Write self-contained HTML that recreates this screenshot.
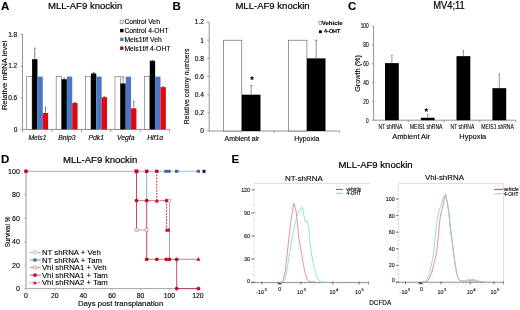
<!DOCTYPE html>
<html><head><meta charset="utf-8"><style>
html,body{margin:0;padding:0;background:#fff;width:520px;height:310px;overflow:hidden}
svg{display:block;font-family:"Liberation Sans", sans-serif;filter:blur(0.3px)}
text{stroke:#000;stroke-width:0.12px}
.h{stroke-width:0.2px}
</style></head><body>
<svg width="520" height="310" viewBox="0 0 520 310">
<rect width="520" height="310" fill="#fff"/>
<text x="1.0" y="9.5" font-size="11.5" text-anchor="start" font-weight="bold" fill="#000">A</text>
<text x="48.0" y="9.0" font-size="9.55" text-anchor="start" fill="#000" class="h">MLL-AF9 knockin</text>
<rect x="120.10" y="20.10" width="3.40" height="3.40" fill="#fff" stroke="#555" stroke-width="0.5"/>
<text x="124.4" y="24.2" font-size="6.8" text-anchor="start" fill="#000">Control Veh</text>
<rect x="120.10" y="28.90" width="3.40" height="3.40" fill="#000"/>
<text x="124.4" y="33.0" font-size="6.8" text-anchor="start" fill="#000">Control 4-OHT</text>
<rect x="120.10" y="37.70" width="3.40" height="3.40" fill="#4a78c6"/>
<text x="124.4" y="41.800000000000004" font-size="6.8" text-anchor="start" fill="#000">Meis1f/f Veh</text>
<rect x="120.10" y="46.50" width="3.40" height="3.40" fill="#a01820"/>
<text x="124.4" y="50.6" font-size="6.8" text-anchor="start" fill="#000">Meis1f/f 4-OHT</text>
<line x1="22.50" y1="34.00" x2="22.50" y2="129.40" stroke="#7a7a7a" stroke-width="0.8"/>
<line x1="22.50" y1="129.40" x2="169.60" y2="129.40" stroke="#7a7a7a" stroke-width="0.8"/>
<line x1="20.50" y1="34.36" x2="22.50" y2="34.36" stroke="#7a7a7a" stroke-width="0.7"/>
<text x="17.3" y="36.76000000000001" font-size="6.6" text-anchor="end" fill="#000">1.8</text>
<line x1="20.50" y1="66.04" x2="22.50" y2="66.04" stroke="#7a7a7a" stroke-width="0.7"/>
<text x="17.3" y="68.44000000000003" font-size="6.6" text-anchor="end" fill="#000">1.2</text>
<line x1="20.50" y1="97.72" x2="22.50" y2="97.72" stroke="#7a7a7a" stroke-width="0.7"/>
<text x="17.3" y="100.12000000000002" font-size="6.6" text-anchor="end" fill="#000">0.6</text>
<line x1="20.50" y1="129.40" x2="22.50" y2="129.40" stroke="#7a7a7a" stroke-width="0.7"/>
<text x="17.3" y="131.8" font-size="6.6" text-anchor="end" fill="#000">0</text>
<line x1="22.50" y1="129.40" x2="22.50" y2="132.20" stroke="#7a7a7a" stroke-width="0.7"/>
<line x1="52.00" y1="129.40" x2="52.00" y2="132.20" stroke="#7a7a7a" stroke-width="0.7"/>
<line x1="81.40" y1="129.40" x2="81.40" y2="132.20" stroke="#7a7a7a" stroke-width="0.7"/>
<line x1="110.80" y1="129.40" x2="110.80" y2="132.20" stroke="#7a7a7a" stroke-width="0.7"/>
<line x1="140.20" y1="129.40" x2="140.20" y2="132.20" stroke="#7a7a7a" stroke-width="0.7"/>
<line x1="169.60" y1="129.40" x2="169.60" y2="132.20" stroke="#7a7a7a" stroke-width="0.7"/>
<rect x="26.75" y="76.60" width="5.35" height="52.80" fill="#fff" stroke="#666" stroke-width="0.6"/>
<rect x="32.10" y="59.18" width="5.35" height="70.22" fill="#000"/>
<line x1="34.77" y1="48.09" x2="34.77" y2="59.18" stroke="#333" stroke-width="0.6"/>
<line x1="33.98" y1="48.09" x2="35.57" y2="48.09" stroke="#333" stroke-width="0.6"/>
<rect x="37.45" y="76.60" width="5.35" height="52.80" fill="#4a78c6"/>
<rect x="42.80" y="113.03" width="5.35" height="16.37" fill="#e0070f"/>
<line x1="45.47" y1="107.22" x2="45.47" y2="113.03" stroke="#333" stroke-width="0.6"/>
<line x1="44.67" y1="107.22" x2="46.27" y2="107.22" stroke="#333" stroke-width="0.6"/>
<text x="37.45" y="139.6" font-size="6.8" text-anchor="middle" font-style="italic" fill="#000">Meis1</text>
<rect x="56.17" y="76.60" width="5.35" height="52.80" fill="#fff" stroke="#666" stroke-width="0.6"/>
<rect x="61.52" y="79.24" width="5.35" height="50.16" fill="#000"/>
<line x1="64.20" y1="78.18" x2="64.20" y2="79.24" stroke="#333" stroke-width="0.6"/>
<line x1="63.40" y1="78.18" x2="65.00" y2="78.18" stroke="#333" stroke-width="0.6"/>
<rect x="66.87" y="76.60" width="5.35" height="52.80" fill="#4a78c6"/>
<rect x="72.22" y="103.00" width="5.35" height="26.40" fill="#e0070f"/>
<line x1="74.89" y1="102.47" x2="74.89" y2="103.00" stroke="#333" stroke-width="0.6"/>
<line x1="74.09" y1="102.47" x2="75.69" y2="102.47" stroke="#333" stroke-width="0.6"/>
<text x="66.87" y="139.6" font-size="6.8" text-anchor="middle" font-style="italic" fill="#000">Bnip3</text>
<rect x="85.59" y="76.60" width="5.35" height="52.80" fill="#fff" stroke="#666" stroke-width="0.6"/>
<rect x="90.94" y="73.43" width="5.35" height="55.97" fill="#000"/>
<line x1="93.61" y1="72.38" x2="93.61" y2="73.43" stroke="#333" stroke-width="0.6"/>
<line x1="92.81" y1="72.38" x2="94.41" y2="72.38" stroke="#333" stroke-width="0.6"/>
<rect x="96.29" y="76.60" width="5.35" height="52.80" fill="#4a78c6"/>
<rect x="101.64" y="97.19" width="5.35" height="32.21" fill="#e0070f"/>
<line x1="104.31" y1="96.66" x2="104.31" y2="97.19" stroke="#333" stroke-width="0.6"/>
<line x1="103.52" y1="96.66" x2="105.11" y2="96.66" stroke="#333" stroke-width="0.6"/>
<text x="96.29" y="139.6" font-size="6.8" text-anchor="middle" font-style="italic" fill="#000">Pdk1</text>
<rect x="115.01" y="76.60" width="5.35" height="52.80" fill="#fff" stroke="#666" stroke-width="0.6"/>
<rect x="120.36" y="83.46" width="5.35" height="45.94" fill="#000"/>
<line x1="123.03" y1="76.60" x2="123.03" y2="83.46" stroke="#333" stroke-width="0.6"/>
<line x1="122.23" y1="76.60" x2="123.83" y2="76.60" stroke="#333" stroke-width="0.6"/>
<rect x="125.71" y="76.60" width="5.35" height="52.80" fill="#4a78c6"/>
<rect x="131.06" y="108.28" width="5.35" height="21.12" fill="#e0070f"/>
<line x1="133.74" y1="101.42" x2="133.74" y2="108.28" stroke="#333" stroke-width="0.6"/>
<line x1="132.94" y1="101.42" x2="134.54" y2="101.42" stroke="#333" stroke-width="0.6"/>
<text x="125.71000000000001" y="139.6" font-size="6.8" text-anchor="middle" font-style="italic" fill="#000">Vegfa</text>
<rect x="144.43" y="76.60" width="5.35" height="52.80" fill="#fff" stroke="#666" stroke-width="0.6"/>
<rect x="149.78" y="60.76" width="5.35" height="68.64" fill="#000"/>
<line x1="152.46" y1="60.23" x2="152.46" y2="60.76" stroke="#333" stroke-width="0.6"/>
<line x1="151.66" y1="60.23" x2="153.26" y2="60.23" stroke="#333" stroke-width="0.6"/>
<rect x="155.13" y="76.60" width="5.35" height="52.80" fill="#4a78c6"/>
<rect x="160.48" y="87.16" width="5.35" height="42.24" fill="#e0070f"/>
<line x1="163.16" y1="86.63" x2="163.16" y2="87.16" stroke="#333" stroke-width="0.6"/>
<line x1="162.36" y1="86.63" x2="163.96" y2="86.63" stroke="#333" stroke-width="0.6"/>
<text x="155.13" y="139.6" font-size="6.8" text-anchor="middle" font-style="italic" fill="#000">Hif1α</text>
<text x="6.5" y="75.5" font-size="7.6" text-anchor="middle" fill="#000" transform="rotate(-90 6.5 75.5)">Relative mRNA level</text>
<text x="172.6" y="9.5" font-size="11.5" text-anchor="start" font-weight="bold" fill="#000">B</text>
<text x="235.4" y="9.0" font-size="9.55" text-anchor="start" fill="#000" class="h">MLL-AF9 knockin</text>
<line x1="209.20" y1="22.00" x2="209.20" y2="131.00" stroke="#7a7a7a" stroke-width="0.8"/>
<line x1="209.20" y1="131.00" x2="339.60" y2="131.00" stroke="#7a7a7a" stroke-width="0.8"/>
<line x1="207.20" y1="22.04" x2="209.20" y2="22.04" stroke="#7a7a7a" stroke-width="0.7"/>
<text x="204.0" y="24.340000000000007" font-size="6.6" text-anchor="end" fill="#000">1.2</text>
<line x1="207.20" y1="40.20" x2="209.20" y2="40.20" stroke="#7a7a7a" stroke-width="0.7"/>
<text x="204.0" y="42.5" font-size="6.6" text-anchor="end" fill="#000">1</text>
<line x1="207.20" y1="58.36" x2="209.20" y2="58.36" stroke="#7a7a7a" stroke-width="0.7"/>
<text x="204.0" y="60.66" font-size="6.6" text-anchor="end" fill="#000">0.8</text>
<line x1="207.20" y1="76.52" x2="209.20" y2="76.52" stroke="#7a7a7a" stroke-width="0.7"/>
<text x="204.0" y="78.82000000000001" font-size="6.6" text-anchor="end" fill="#000">0.6</text>
<line x1="207.20" y1="94.68" x2="209.20" y2="94.68" stroke="#7a7a7a" stroke-width="0.7"/>
<text x="204.0" y="96.98" font-size="6.6" text-anchor="end" fill="#000">0.4</text>
<line x1="207.20" y1="112.84" x2="209.20" y2="112.84" stroke="#7a7a7a" stroke-width="0.7"/>
<text x="204.0" y="115.14" font-size="6.6" text-anchor="end" fill="#000">0.2</text>
<line x1="207.20" y1="131.00" x2="209.20" y2="131.00" stroke="#7a7a7a" stroke-width="0.7"/>
<text x="204.0" y="133.3" font-size="6.6" text-anchor="end" fill="#000">0</text>
<line x1="274.00" y1="131.00" x2="274.00" y2="133.20" stroke="#7a7a7a" stroke-width="0.7"/>
<line x1="339.60" y1="131.00" x2="339.60" y2="133.20" stroke="#7a7a7a" stroke-width="0.7"/>
<rect x="223.40" y="40.20" width="18.40" height="90.80" fill="#fff" stroke="#555" stroke-width="0.6"/>
<rect x="241.80" y="94.68" width="18.70" height="36.32" fill="#000"/>
<line x1="251.15" y1="85.60" x2="251.15" y2="94.68" stroke="#444" stroke-width="0.6"/>
<line x1="249.95" y1="85.60" x2="252.35" y2="85.60" stroke="#444" stroke-width="0.6"/>
<rect x="288.30" y="40.20" width="18.60" height="90.80" fill="#fff" stroke="#555" stroke-width="0.6"/>
<rect x="306.90" y="58.36" width="18.60" height="72.64" fill="#000"/>
<line x1="316.20" y1="40.20" x2="316.20" y2="58.36" stroke="#444" stroke-width="0.6"/>
<line x1="315.00" y1="40.20" x2="317.40" y2="40.20" stroke="#444" stroke-width="0.6"/>
<polygon points="252.00,75.80 252.63,77.33 254.28,77.46 253.03,78.53 253.41,80.14 252.00,79.28 250.59,80.14 250.97,78.53 249.72,77.46 251.37,77.33" fill="#000"/>
<text x="242.0" y="141.2" font-size="6.9" text-anchor="middle" fill="#000">Ambient air</text>
<text x="306.8" y="141.2" font-size="6.9" text-anchor="middle" fill="#000">Hypoxia</text>
<text x="189.4" y="86.4" font-size="6.9" text-anchor="middle" fill="#000" transform="rotate(-90 189.4 86.4)">Relative colony numbers</text>
<rect x="319.00" y="21.50" width="2.80" height="2.90" fill="#fff" stroke="#555" stroke-width="0.5"/>
<text x="321.8" y="24.8" font-size="6.0" text-anchor="start" font-weight="bold" fill="#000">Vehicle</text>
<rect x="319.00" y="30.30" width="2.80" height="2.80" fill="#000"/>
<text x="324.1" y="33.2" font-size="5.4" text-anchor="start" font-weight="bold" fill="#000">4-OHT</text>
<text x="347.9" y="9.6" font-size="11.5" text-anchor="start" font-weight="bold" fill="#000">C</text>
<text x="433.2" y="8.5" font-size="10.0" text-anchor="start" fill="#000" class="h" textLength="31.6" lengthAdjust="spacingAndGlyphs">MV4;11</text>
<line x1="373.60" y1="26.00" x2="373.60" y2="120.20" stroke="#7a7a7a" stroke-width="0.8"/>
<line x1="373.60" y1="120.20" x2="515.50" y2="120.20" stroke="#7a7a7a" stroke-width="0.8"/>
<line x1="371.80" y1="26.00" x2="373.60" y2="26.00" stroke="#7a7a7a" stroke-width="0.7"/>
<text x="368.7" y="28.400000000000013" font-size="6.6" text-anchor="end" fill="#000" textLength="8.0" lengthAdjust="spacingAndGlyphs">100</text>
<line x1="371.80" y1="44.84" x2="373.60" y2="44.84" stroke="#7a7a7a" stroke-width="0.7"/>
<text x="368.7" y="47.24" font-size="6.6" text-anchor="end" fill="#000" textLength="5.4" lengthAdjust="spacingAndGlyphs">80</text>
<line x1="371.80" y1="63.68" x2="373.60" y2="63.68" stroke="#7a7a7a" stroke-width="0.7"/>
<text x="368.7" y="66.08000000000001" font-size="6.6" text-anchor="end" fill="#000" textLength="5.4" lengthAdjust="spacingAndGlyphs">60</text>
<line x1="371.80" y1="82.52" x2="373.60" y2="82.52" stroke="#7a7a7a" stroke-width="0.7"/>
<text x="368.7" y="84.92000000000002" font-size="6.6" text-anchor="end" fill="#000" textLength="5.4" lengthAdjust="spacingAndGlyphs">40</text>
<line x1="371.80" y1="101.36" x2="373.60" y2="101.36" stroke="#7a7a7a" stroke-width="0.7"/>
<text x="368.7" y="103.76" font-size="6.6" text-anchor="end" fill="#000" textLength="5.4" lengthAdjust="spacingAndGlyphs">20</text>
<line x1="371.80" y1="120.20" x2="373.60" y2="120.20" stroke="#7a7a7a" stroke-width="0.7"/>
<text x="368.7" y="122.60000000000001" font-size="6.6" text-anchor="end" fill="#000" textLength="2.6" lengthAdjust="spacingAndGlyphs">0</text>
<line x1="408.20" y1="120.20" x2="408.20" y2="122.20" stroke="#7a7a7a" stroke-width="0.7"/>
<line x1="444.00" y1="120.20" x2="444.00" y2="122.20" stroke="#7a7a7a" stroke-width="0.7"/>
<line x1="479.80" y1="120.20" x2="479.80" y2="122.20" stroke="#7a7a7a" stroke-width="0.7"/>
<line x1="515.50" y1="120.20" x2="515.50" y2="122.20" stroke="#7a7a7a" stroke-width="0.7"/>
<rect x="385.00" y="63.11" width="13.80" height="57.09" fill="#000"/>
<line x1="391.90" y1="55.20" x2="391.90" y2="63.11" stroke="#444" stroke-width="0.55"/>
<line x1="391.10" y1="55.20" x2="392.70" y2="55.20" stroke="#444" stroke-width="0.55"/>
<rect x="420.80" y="117.75" width="13.80" height="2.45" fill="#000"/>
<line x1="427.70" y1="114.36" x2="427.70" y2="117.75" stroke="#444" stroke-width="0.55"/>
<line x1="426.90" y1="114.36" x2="428.50" y2="114.36" stroke="#444" stroke-width="0.55"/>
<rect x="456.50" y="56.14" width="13.80" height="64.06" fill="#000"/>
<line x1="463.40" y1="50.49" x2="463.40" y2="56.14" stroke="#444" stroke-width="0.55"/>
<line x1="462.60" y1="50.49" x2="464.20" y2="50.49" stroke="#444" stroke-width="0.55"/>
<rect x="492.40" y="88.17" width="13.80" height="32.03" fill="#000"/>
<line x1="499.30" y1="73.76" x2="499.30" y2="88.17" stroke="#444" stroke-width="0.55"/>
<line x1="498.50" y1="73.76" x2="500.10" y2="73.76" stroke="#444" stroke-width="0.55"/>
<polygon points="426.30,107.60 426.93,109.13 428.58,109.26 427.33,110.33 427.71,111.94 426.30,111.08 424.89,111.94 425.27,110.33 424.02,109.26 425.67,109.13" fill="#000"/>
<text x="390.4" y="129.2" font-size="6.4" text-anchor="middle" fill="#000" textLength="23.6" lengthAdjust="spacingAndGlyphs" style="stroke-width:0.1px">NT shRNA</text>
<text x="426.2" y="129.2" font-size="6.4" text-anchor="middle" fill="#000" textLength="32.6" lengthAdjust="spacingAndGlyphs" style="stroke-width:0.1px">MEIS1 shRNA</text>
<text x="462.4" y="129.2" font-size="6.4" text-anchor="middle" fill="#000" textLength="23.6" lengthAdjust="spacingAndGlyphs" style="stroke-width:0.1px">NT shRNA</text>
<text x="497.6" y="129.2" font-size="6.4" text-anchor="middle" fill="#000" textLength="32.6" lengthAdjust="spacingAndGlyphs" style="stroke-width:0.1px">MEIS1 shRNA</text>
<text x="411.2" y="138.7" font-size="7.45" text-anchor="middle" fill="#000">Ambient Air</text>
<text x="472.8" y="138.7" font-size="7.45" text-anchor="middle" fill="#000">Hypoxia</text>
<text x="359.7" y="73.4" font-size="7.3" text-anchor="middle" fill="#000" transform="rotate(-90 359.7 73.4)">Growth (%)</text>
<text x="1.0" y="163.4" font-size="11.5" text-anchor="start" font-weight="bold" fill="#000">D</text>
<text x="63.0" y="162.9" font-size="9.55" text-anchor="start" fill="#000" class="h">MLL-AF9 knockin</text>
<line x1="26.00" y1="171.20" x2="26.00" y2="288.60" stroke="#a8a8a8" stroke-width="1.2"/>
<line x1="26.00" y1="288.60" x2="198.60" y2="288.60" stroke="#a8a8a8" stroke-width="1.0"/>
<line x1="24.20" y1="171.30" x2="26.00" y2="171.30" stroke="#999" stroke-width="0.7"/>
<text x="19.8" y="173.70000000000002" font-size="7.0" text-anchor="end" fill="#000">100</text>
<line x1="24.20" y1="194.76" x2="26.00" y2="194.76" stroke="#999" stroke-width="0.7"/>
<text x="19.8" y="197.16000000000003" font-size="7.0" text-anchor="end" fill="#000">80</text>
<line x1="24.20" y1="218.22" x2="26.00" y2="218.22" stroke="#999" stroke-width="0.7"/>
<text x="19.8" y="220.62000000000003" font-size="7.0" text-anchor="end" fill="#000">60</text>
<line x1="24.20" y1="241.68" x2="26.00" y2="241.68" stroke="#999" stroke-width="0.7"/>
<text x="19.8" y="244.08" font-size="7.0" text-anchor="end" fill="#000">40</text>
<line x1="24.20" y1="265.14" x2="26.00" y2="265.14" stroke="#999" stroke-width="0.7"/>
<text x="19.8" y="267.54" font-size="7.0" text-anchor="end" fill="#000">20</text>
<line x1="24.20" y1="288.60" x2="26.00" y2="288.60" stroke="#999" stroke-width="0.7"/>
<text x="19.8" y="291.0" font-size="7.0" text-anchor="end" fill="#000">0</text>
<line x1="26.00" y1="288.60" x2="26.00" y2="290.40" stroke="#999" stroke-width="0.7"/>
<text x="26.0" y="297.6" font-size="6.8" text-anchor="middle" fill="#000">0</text>
<line x1="54.66" y1="288.60" x2="54.66" y2="290.40" stroke="#999" stroke-width="0.7"/>
<text x="54.66" y="297.6" font-size="6.8" text-anchor="middle" fill="#000">20</text>
<line x1="83.32" y1="288.60" x2="83.32" y2="290.40" stroke="#999" stroke-width="0.7"/>
<text x="83.32" y="297.6" font-size="6.8" text-anchor="middle" fill="#000">40</text>
<line x1="111.98" y1="288.60" x2="111.98" y2="290.40" stroke="#999" stroke-width="0.7"/>
<text x="111.98" y="297.6" font-size="6.8" text-anchor="middle" fill="#000">60</text>
<line x1="140.64" y1="288.60" x2="140.64" y2="290.40" stroke="#999" stroke-width="0.7"/>
<text x="140.64" y="297.6" font-size="6.8" text-anchor="middle" fill="#000">80</text>
<line x1="169.30" y1="288.60" x2="169.30" y2="290.40" stroke="#999" stroke-width="0.7"/>
<text x="169.3" y="297.6" font-size="6.8" text-anchor="middle" fill="#000">100</text>
<line x1="197.96" y1="288.60" x2="197.96" y2="290.40" stroke="#999" stroke-width="0.7"/>
<text x="197.96" y="297.6" font-size="6.8" text-anchor="middle" fill="#000">120</text>
<text x="120.6" y="306.0" font-size="7.75" text-anchor="middle" fill="#000">Days post transplanation</text>
<text x="10.3" y="231.9" font-size="7.2" text-anchor="middle" fill="#000" transform="rotate(-90 10.3 231.9)" textLength="30.6" lengthAdjust="spacingAndGlyphs">Survival %</text>
<line x1="26.00" y1="171.30" x2="136.50" y2="171.30" stroke="#cc4858" stroke-width="0.6"/>
<line x1="136.50" y1="171.30" x2="156.80" y2="171.30" stroke="#cf4a5a" stroke-width="0.6"/>
<line x1="156.80" y1="171.30" x2="198.40" y2="171.30" stroke="#7d9ccc" stroke-width="0.7"/>
<line x1="136.50" y1="171.30" x2="136.50" y2="229.95" stroke="#b8102c" stroke-width="0.75"/>
<line x1="146.70" y1="171.30" x2="146.70" y2="200.62" stroke="#6a8cc4" stroke-width="0.75"/>
<line x1="146.70" y1="200.62" x2="146.70" y2="259.28" stroke="#b8102c" stroke-width="0.75"/>
<line x1="156.80" y1="171.30" x2="156.80" y2="200.62" stroke="#b8102c" stroke-width="0.9" stroke-dasharray="1.8 1.3"/>
<line x1="166.60" y1="200.62" x2="166.60" y2="229.95" stroke="#b8102c" stroke-width="0.9" stroke-dasharray="1.8 1.3"/>
<line x1="169.50" y1="200.62" x2="169.50" y2="259.28" stroke="#7f8fb0" stroke-width="0.75"/>
<line x1="176.70" y1="259.28" x2="176.70" y2="288.60" stroke="#b8102c" stroke-width="0.75"/>
<line x1="136.50" y1="200.62" x2="169.50" y2="200.62" stroke="#cf3a4a" stroke-width="0.7"/>
<line x1="136.50" y1="229.95" x2="146.70" y2="229.95" stroke="#e09aa4" stroke-width="1.0"/>
<line x1="146.70" y1="259.28" x2="198.40" y2="259.28" stroke="#cf3a4a" stroke-width="0.7"/>
<line x1="176.70" y1="288.60" x2="198.40" y2="288.60" stroke="#b8102c" stroke-width="0.7"/>
<circle cx="26.00" cy="171.30" r="2.0" fill="#b8102c"/>
<rect x="134.55" y="169.35" width="3.90" height="3.90" fill="#b8102c"/>
<rect x="145.00" y="169.60" width="3.40" height="3.40" fill="#b8102c"/>
<rect x="155.10" y="169.60" width="3.40" height="3.40" fill="#b8102c"/>
<rect x="164.25" y="169.80" width="6.40" height="3.00" fill="#45669e"/>
<rect x="175.00" y="169.80" width="3.40" height="3.00" fill="#45669e"/>
<rect x="196.70" y="169.80" width="3.40" height="3.00" fill="#45669e"/>
<polygon points="204.00,168.80 204.69,170.45 206.47,170.60 205.11,171.76 205.53,173.50 204.00,172.57 202.47,173.50 202.89,171.76 201.53,170.60 203.31,170.45" fill="#000"/>
<circle cx="136.50" cy="200.62" r="1.9" fill="#b8102c"/>
<circle cx="146.70" cy="200.62" r="1.9" fill="#b8102c"/>
<path d="M154.70 202.39L156.80 198.53L158.90 202.39Z" fill="#b8102c"/>
<circle cx="166.60" cy="200.62" r="1.9" fill="#b8102c"/>
<rect x="168.10" y="199.22" width="2.80" height="2.80" fill="#fff" stroke="#8aa0c8" stroke-width="0.6"/>
<circle cx="136.50" cy="229.95" r="1.7" fill="#fff" stroke="#c85060" stroke-width="0.6"/>
<circle cx="146.70" cy="229.95" r="1.7" fill="#fff" stroke="#c85060" stroke-width="0.6"/>
<path d="M164.70 231.51L166.80 227.65L168.90 231.51Z" fill="#b8102c"/>
<path d="M166.40 231.51L168.50 227.65L170.60 231.51Z" fill="#b8102c"/>
<circle cx="146.70" cy="259.28" r="1.9" fill="#b8102c"/>
<circle cx="156.80" cy="259.28" r="1.9" fill="#b8102c"/>
<circle cx="166.30" cy="259.28" r="1.9" fill="#b8102c"/>
<circle cx="169.50" cy="259.28" r="1.9" fill="#b8102c"/>
<circle cx="176.70" cy="259.28" r="1.9" fill="#b8102c"/>
<path d="M196.40 260.76L198.40 257.08L200.40 260.76Z" fill="#b8102c"/>
<circle cx="176.70" cy="288.60" r="1.9" fill="#b8102c"/>
<circle cx="198.40" cy="288.60" r="1.9" fill="#b8102c"/>
<line x1="29.80" y1="252.40" x2="40.90" y2="252.40" stroke="#7d9ccc" stroke-width="0.7"/>
<circle cx="35.00" cy="252.40" r="1.7" fill="#fff" stroke="#7d9ccc" stroke-width="0.6"/>
<text x="41.9" y="255.1" font-size="7.8" text-anchor="start" fill="#000">NT shRNA + Veh</text>
<line x1="29.80" y1="259.97" x2="40.90" y2="259.97" stroke="#45669e" stroke-width="0.7"/>
<rect x="33.45" y="258.42" width="3.10" height="3.10" fill="#45669e"/>
<text x="41.9" y="262.67" font-size="7.8" text-anchor="start" fill="#000">NT shRNA + Tam</text>
<line x1="29.80" y1="267.54" x2="40.90" y2="267.54" stroke="#d06070" stroke-width="0.7"/>
<circle cx="35.00" cy="267.54" r="1.7" fill="#fff" stroke="#d06070" stroke-width="0.6"/>
<text x="41.9" y="270.24" font-size="7.8" text-anchor="start" fill="#000">Vhl shRNA1 + Veh</text>
<line x1="29.80" y1="275.11" x2="40.90" y2="275.11" stroke="#b8102c" stroke-width="0.7"/>
<circle cx="35.00" cy="275.11" r="1.9" fill="#b8102c"/>
<text x="41.9" y="277.81" font-size="7.8" text-anchor="start" fill="#000">Vhl shRNA1 + Tam</text>
<line x1="29.80" y1="282.68" x2="40.90" y2="282.68" stroke="#b8102c" stroke-width="0.7" stroke-dasharray="1.3 0.9"/>
<path d="M33.20 284.19L35.00 280.88L36.80 284.19Z" fill="#b8102c"/>
<text x="41.9" y="285.38" font-size="7.8" text-anchor="start" fill="#000">Vhl shRNA2 + Tam</text>
<text x="231.4" y="163.4" font-size="11.5" text-anchor="start" font-weight="bold" fill="#000">E</text>
<text x="338.4" y="168.4" font-size="9.55" text-anchor="start" fill="#000" class="h">MLL-AF9 knockin</text>
<text x="303.8" y="180.8" font-size="7.9" text-anchor="middle" fill="#000">NT-shRNA</text>
<text x="444.4" y="180.4" font-size="7.9" text-anchor="middle" fill="#000">Vhl-shRNA</text>
<text x="380.2" y="304.9" font-size="6.4" text-anchor="middle" fill="#000">DCFDA</text>
<line x1="254.40" y1="183.40" x2="369.80" y2="183.40" stroke="#c4c4c4" stroke-width="0.6"/>
<line x1="254.40" y1="183.40" x2="254.40" y2="282.40" stroke="#dcdcdc" stroke-width="0.5"/>
<line x1="251.00" y1="282.40" x2="368.50" y2="282.40" stroke="#555" stroke-width="0.6"/>
<line x1="251.40" y1="189.80" x2="254.40" y2="189.80" stroke="#333" stroke-width="0.7"/>
<text x="250.0" y="191.7" font-size="5.3" text-anchor="end" fill="#222">120</text>
<line x1="251.40" y1="212.90" x2="254.40" y2="212.90" stroke="#333" stroke-width="0.7"/>
<text x="250.0" y="214.79999999999998" font-size="5.3" text-anchor="end" fill="#222">90</text>
<line x1="251.40" y1="236.00" x2="254.40" y2="236.00" stroke="#333" stroke-width="0.7"/>
<text x="250.0" y="237.9" font-size="5.3" text-anchor="end" fill="#222">60</text>
<line x1="251.40" y1="259.10" x2="254.40" y2="259.10" stroke="#333" stroke-width="0.7"/>
<text x="250.0" y="260.99999999999994" font-size="5.3" text-anchor="end" fill="#222">30</text>
<line x1="251.40" y1="282.20" x2="254.40" y2="282.20" stroke="#333" stroke-width="0.7"/>
<text x="250.0" y="282.79999999999995" font-size="5.3" text-anchor="end" fill="#222">0</text>
<line x1="253.20" y1="282.20" x2="254.40" y2="282.20" stroke="#888" stroke-width="0.5"/>
<line x1="253.20" y1="274.50" x2="254.40" y2="274.50" stroke="#888" stroke-width="0.5"/>
<line x1="253.20" y1="266.80" x2="254.40" y2="266.80" stroke="#888" stroke-width="0.5"/>
<line x1="253.20" y1="259.10" x2="254.40" y2="259.10" stroke="#888" stroke-width="0.5"/>
<line x1="253.20" y1="251.40" x2="254.40" y2="251.40" stroke="#888" stroke-width="0.5"/>
<line x1="253.20" y1="243.70" x2="254.40" y2="243.70" stroke="#888" stroke-width="0.5"/>
<line x1="253.20" y1="236.00" x2="254.40" y2="236.00" stroke="#888" stroke-width="0.5"/>
<line x1="253.20" y1="228.30" x2="254.40" y2="228.30" stroke="#888" stroke-width="0.5"/>
<line x1="253.20" y1="220.60" x2="254.40" y2="220.60" stroke="#888" stroke-width="0.5"/>
<line x1="253.20" y1="212.90" x2="254.40" y2="212.90" stroke="#888" stroke-width="0.5"/>
<line x1="253.20" y1="205.20" x2="254.40" y2="205.20" stroke="#888" stroke-width="0.5"/>
<line x1="253.20" y1="197.50" x2="254.40" y2="197.50" stroke="#888" stroke-width="0.5"/>
<line x1="253.20" y1="189.80" x2="254.40" y2="189.80" stroke="#888" stroke-width="0.5"/>
<line x1="398.60" y1="183.40" x2="503.60" y2="183.40" stroke="#c4c4c4" stroke-width="0.6"/>
<line x1="398.60" y1="183.40" x2="398.60" y2="282.20" stroke="#dcdcdc" stroke-width="0.5"/>
<line x1="503.60" y1="183.40" x2="503.60" y2="282.20" stroke="#c4c4c4" stroke-width="0.6"/>
<line x1="395.50" y1="282.20" x2="503.60" y2="282.20" stroke="#555" stroke-width="0.6"/>
<line x1="396.20" y1="199.00" x2="398.60" y2="199.00" stroke="#333" stroke-width="0.7"/>
<text x="394.6" y="200.9" font-size="5.3" text-anchor="end" fill="#222">100</text>
<line x1="396.20" y1="215.60" x2="398.60" y2="215.60" stroke="#333" stroke-width="0.7"/>
<text x="394.6" y="217.50000000000003" font-size="5.3" text-anchor="end" fill="#222">80</text>
<line x1="396.20" y1="232.20" x2="398.60" y2="232.20" stroke="#333" stroke-width="0.7"/>
<text x="394.6" y="234.1" font-size="5.3" text-anchor="end" fill="#222">60</text>
<line x1="396.20" y1="248.80" x2="398.60" y2="248.80" stroke="#333" stroke-width="0.7"/>
<text x="394.6" y="250.70000000000002" font-size="5.3" text-anchor="end" fill="#222">40</text>
<line x1="396.20" y1="265.40" x2="398.60" y2="265.40" stroke="#333" stroke-width="0.7"/>
<text x="394.6" y="267.29999999999995" font-size="5.3" text-anchor="end" fill="#222">20</text>
<line x1="396.20" y1="282.00" x2="398.60" y2="282.00" stroke="#333" stroke-width="0.7"/>
<text x="394.6" y="281.7" font-size="5.3" text-anchor="end" fill="#222">0</text>
<line x1="397.40" y1="282.00" x2="398.60" y2="282.00" stroke="#888" stroke-width="0.5"/>
<line x1="397.40" y1="277.85" x2="398.60" y2="277.85" stroke="#888" stroke-width="0.5"/>
<line x1="397.40" y1="273.70" x2="398.60" y2="273.70" stroke="#888" stroke-width="0.5"/>
<line x1="397.40" y1="269.55" x2="398.60" y2="269.55" stroke="#888" stroke-width="0.5"/>
<line x1="397.40" y1="265.40" x2="398.60" y2="265.40" stroke="#888" stroke-width="0.5"/>
<line x1="397.40" y1="261.25" x2="398.60" y2="261.25" stroke="#888" stroke-width="0.5"/>
<line x1="397.40" y1="257.10" x2="398.60" y2="257.10" stroke="#888" stroke-width="0.5"/>
<line x1="397.40" y1="252.95" x2="398.60" y2="252.95" stroke="#888" stroke-width="0.5"/>
<line x1="397.40" y1="248.80" x2="398.60" y2="248.80" stroke="#888" stroke-width="0.5"/>
<line x1="397.40" y1="244.65" x2="398.60" y2="244.65" stroke="#888" stroke-width="0.5"/>
<line x1="397.40" y1="240.50" x2="398.60" y2="240.50" stroke="#888" stroke-width="0.5"/>
<line x1="397.40" y1="236.35" x2="398.60" y2="236.35" stroke="#888" stroke-width="0.5"/>
<line x1="397.40" y1="232.20" x2="398.60" y2="232.20" stroke="#888" stroke-width="0.5"/>
<line x1="397.40" y1="228.05" x2="398.60" y2="228.05" stroke="#888" stroke-width="0.5"/>
<line x1="397.40" y1="223.90" x2="398.60" y2="223.90" stroke="#888" stroke-width="0.5"/>
<line x1="397.40" y1="219.75" x2="398.60" y2="219.75" stroke="#888" stroke-width="0.5"/>
<line x1="397.40" y1="215.60" x2="398.60" y2="215.60" stroke="#888" stroke-width="0.5"/>
<line x1="397.40" y1="211.45" x2="398.60" y2="211.45" stroke="#888" stroke-width="0.5"/>
<line x1="397.40" y1="207.30" x2="398.60" y2="207.30" stroke="#888" stroke-width="0.5"/>
<line x1="397.40" y1="203.15" x2="398.60" y2="203.15" stroke="#888" stroke-width="0.5"/>
<line x1="397.40" y1="199.00" x2="398.60" y2="199.00" stroke="#888" stroke-width="0.5"/>
<line x1="397.40" y1="194.85" x2="398.60" y2="194.85" stroke="#888" stroke-width="0.5"/>
<line x1="397.40" y1="190.70" x2="398.60" y2="190.70" stroke="#888" stroke-width="0.5"/>
<line x1="397.40" y1="186.55" x2="398.60" y2="186.55" stroke="#888" stroke-width="0.5"/>
<text x="256.3" y="294.2" font-size="5.4" text-anchor="start" fill="#222">-10</text>
<text x="264.5" y="290.8" font-size="4.2" text-anchor="start" fill="#222">3</text>
<text x="279.8" y="290.59999999999997" font-size="5.4" text-anchor="middle" fill="#222">0</text>
<text x="297.0" y="294.2" font-size="5.4" text-anchor="start" fill="#222">10</text>
<text x="303.5" y="290.8" font-size="4.2" text-anchor="start" fill="#222">3</text>
<text x="329.4" y="294.2" font-size="5.4" text-anchor="start" fill="#222">10</text>
<text x="335.9" y="290.8" font-size="4.2" text-anchor="start" fill="#222">4</text>
<text x="355.0" y="294.2" font-size="5.4" text-anchor="start" fill="#222">10</text>
<text x="361.5" y="290.8" font-size="4.2" text-anchor="start" fill="#222">5</text>
<text x="399.6" y="294.2" font-size="5.4" text-anchor="start" fill="#222">-10</text>
<text x="407.8" y="290.8" font-size="4.2" text-anchor="start" fill="#222">3</text>
<text x="421.6" y="290.59999999999997" font-size="5.4" text-anchor="middle" fill="#222">0</text>
<text x="437.4" y="294.2" font-size="5.4" text-anchor="start" fill="#222">10</text>
<text x="443.9" y="290.8" font-size="4.2" text-anchor="start" fill="#222">3</text>
<text x="466.8" y="294.2" font-size="5.4" text-anchor="start" fill="#222">10</text>
<text x="473.3" y="290.8" font-size="4.2" text-anchor="start" fill="#222">4</text>
<text x="490.6" y="294.2" font-size="5.4" text-anchor="start" fill="#222">10</text>
<text x="497.1" y="290.8" font-size="4.2" text-anchor="start" fill="#222">5</text>
<line x1="252.50" y1="282.40" x2="252.50" y2="283.70" stroke="#666" stroke-width="0.4"/>
<line x1="255.40" y1="282.40" x2="255.40" y2="283.70" stroke="#666" stroke-width="0.4"/>
<line x1="258.30" y1="282.40" x2="258.30" y2="283.70" stroke="#666" stroke-width="0.4"/>
<line x1="261.20" y1="282.40" x2="261.20" y2="283.70" stroke="#666" stroke-width="0.4"/>
<line x1="264.10" y1="282.40" x2="264.10" y2="283.70" stroke="#666" stroke-width="0.4"/>
<line x1="267.00" y1="282.40" x2="267.00" y2="283.70" stroke="#666" stroke-width="0.4"/>
<line x1="269.90" y1="282.40" x2="269.90" y2="283.70" stroke="#666" stroke-width="0.4"/>
<line x1="272.80" y1="282.40" x2="272.80" y2="283.70" stroke="#666" stroke-width="0.4"/>
<line x1="275.70" y1="282.40" x2="275.70" y2="283.70" stroke="#666" stroke-width="0.4"/>
<line x1="278.60" y1="282.40" x2="278.60" y2="283.70" stroke="#666" stroke-width="0.4"/>
<line x1="281.50" y1="282.40" x2="281.50" y2="283.70" stroke="#666" stroke-width="0.4"/>
<line x1="284.40" y1="282.40" x2="284.40" y2="283.70" stroke="#666" stroke-width="0.4"/>
<line x1="287.30" y1="282.40" x2="287.30" y2="283.70" stroke="#666" stroke-width="0.4"/>
<line x1="290.20" y1="282.40" x2="290.20" y2="283.70" stroke="#666" stroke-width="0.4"/>
<line x1="293.10" y1="282.40" x2="293.10" y2="283.70" stroke="#666" stroke-width="0.4"/>
<line x1="296.00" y1="282.40" x2="296.00" y2="283.70" stroke="#666" stroke-width="0.4"/>
<line x1="298.90" y1="282.40" x2="298.90" y2="283.70" stroke="#666" stroke-width="0.4"/>
<line x1="301.80" y1="282.40" x2="301.80" y2="283.70" stroke="#666" stroke-width="0.4"/>
<line x1="304.70" y1="282.40" x2="304.70" y2="283.70" stroke="#666" stroke-width="0.4"/>
<line x1="307.60" y1="282.40" x2="307.60" y2="283.70" stroke="#666" stroke-width="0.4"/>
<line x1="310.50" y1="282.40" x2="310.50" y2="283.70" stroke="#666" stroke-width="0.4"/>
<line x1="313.40" y1="282.40" x2="313.40" y2="283.70" stroke="#666" stroke-width="0.4"/>
<line x1="316.30" y1="282.40" x2="316.30" y2="283.70" stroke="#666" stroke-width="0.4"/>
<line x1="319.20" y1="282.40" x2="319.20" y2="283.70" stroke="#666" stroke-width="0.4"/>
<line x1="322.10" y1="282.40" x2="322.10" y2="283.70" stroke="#666" stroke-width="0.4"/>
<line x1="325.00" y1="282.40" x2="325.00" y2="283.70" stroke="#666" stroke-width="0.4"/>
<line x1="327.90" y1="282.40" x2="327.90" y2="283.70" stroke="#666" stroke-width="0.4"/>
<line x1="330.80" y1="282.40" x2="330.80" y2="283.70" stroke="#666" stroke-width="0.4"/>
<line x1="333.70" y1="282.40" x2="333.70" y2="283.70" stroke="#666" stroke-width="0.4"/>
<line x1="336.60" y1="282.40" x2="336.60" y2="283.70" stroke="#666" stroke-width="0.4"/>
<line x1="339.50" y1="282.40" x2="339.50" y2="283.70" stroke="#666" stroke-width="0.4"/>
<line x1="342.40" y1="282.40" x2="342.40" y2="283.70" stroke="#666" stroke-width="0.4"/>
<line x1="345.30" y1="282.40" x2="345.30" y2="283.70" stroke="#666" stroke-width="0.4"/>
<line x1="348.20" y1="282.40" x2="348.20" y2="283.70" stroke="#666" stroke-width="0.4"/>
<line x1="351.10" y1="282.40" x2="351.10" y2="283.70" stroke="#666" stroke-width="0.4"/>
<line x1="354.00" y1="282.40" x2="354.00" y2="283.70" stroke="#666" stroke-width="0.4"/>
<line x1="356.90" y1="282.40" x2="356.90" y2="283.70" stroke="#666" stroke-width="0.4"/>
<line x1="359.80" y1="282.40" x2="359.80" y2="283.70" stroke="#666" stroke-width="0.4"/>
<line x1="362.70" y1="282.40" x2="362.70" y2="283.70" stroke="#666" stroke-width="0.4"/>
<line x1="365.60" y1="282.40" x2="365.60" y2="283.70" stroke="#666" stroke-width="0.4"/>
<line x1="368.50" y1="282.40" x2="368.50" y2="283.70" stroke="#666" stroke-width="0.4"/>
<line x1="396.50" y1="282.20" x2="396.50" y2="283.50" stroke="#666" stroke-width="0.4"/>
<line x1="399.40" y1="282.20" x2="399.40" y2="283.50" stroke="#666" stroke-width="0.4"/>
<line x1="402.30" y1="282.20" x2="402.30" y2="283.50" stroke="#666" stroke-width="0.4"/>
<line x1="405.20" y1="282.20" x2="405.20" y2="283.50" stroke="#666" stroke-width="0.4"/>
<line x1="408.10" y1="282.20" x2="408.10" y2="283.50" stroke="#666" stroke-width="0.4"/>
<line x1="411.00" y1="282.20" x2="411.00" y2="283.50" stroke="#666" stroke-width="0.4"/>
<line x1="413.90" y1="282.20" x2="413.90" y2="283.50" stroke="#666" stroke-width="0.4"/>
<line x1="416.80" y1="282.20" x2="416.80" y2="283.50" stroke="#666" stroke-width="0.4"/>
<line x1="419.70" y1="282.20" x2="419.70" y2="283.50" stroke="#666" stroke-width="0.4"/>
<line x1="422.60" y1="282.20" x2="422.60" y2="283.50" stroke="#666" stroke-width="0.4"/>
<line x1="425.50" y1="282.20" x2="425.50" y2="283.50" stroke="#666" stroke-width="0.4"/>
<line x1="428.40" y1="282.20" x2="428.40" y2="283.50" stroke="#666" stroke-width="0.4"/>
<line x1="431.30" y1="282.20" x2="431.30" y2="283.50" stroke="#666" stroke-width="0.4"/>
<line x1="434.20" y1="282.20" x2="434.20" y2="283.50" stroke="#666" stroke-width="0.4"/>
<line x1="437.10" y1="282.20" x2="437.10" y2="283.50" stroke="#666" stroke-width="0.4"/>
<line x1="440.00" y1="282.20" x2="440.00" y2="283.50" stroke="#666" stroke-width="0.4"/>
<line x1="442.90" y1="282.20" x2="442.90" y2="283.50" stroke="#666" stroke-width="0.4"/>
<line x1="445.80" y1="282.20" x2="445.80" y2="283.50" stroke="#666" stroke-width="0.4"/>
<line x1="448.70" y1="282.20" x2="448.70" y2="283.50" stroke="#666" stroke-width="0.4"/>
<line x1="451.60" y1="282.20" x2="451.60" y2="283.50" stroke="#666" stroke-width="0.4"/>
<line x1="454.50" y1="282.20" x2="454.50" y2="283.50" stroke="#666" stroke-width="0.4"/>
<line x1="457.40" y1="282.20" x2="457.40" y2="283.50" stroke="#666" stroke-width="0.4"/>
<line x1="460.30" y1="282.20" x2="460.30" y2="283.50" stroke="#666" stroke-width="0.4"/>
<line x1="463.20" y1="282.20" x2="463.20" y2="283.50" stroke="#666" stroke-width="0.4"/>
<line x1="466.10" y1="282.20" x2="466.10" y2="283.50" stroke="#666" stroke-width="0.4"/>
<line x1="469.00" y1="282.20" x2="469.00" y2="283.50" stroke="#666" stroke-width="0.4"/>
<line x1="471.90" y1="282.20" x2="471.90" y2="283.50" stroke="#666" stroke-width="0.4"/>
<line x1="474.80" y1="282.20" x2="474.80" y2="283.50" stroke="#666" stroke-width="0.4"/>
<line x1="477.70" y1="282.20" x2="477.70" y2="283.50" stroke="#666" stroke-width="0.4"/>
<line x1="480.60" y1="282.20" x2="480.60" y2="283.50" stroke="#666" stroke-width="0.4"/>
<line x1="483.50" y1="282.20" x2="483.50" y2="283.50" stroke="#666" stroke-width="0.4"/>
<line x1="486.40" y1="282.20" x2="486.40" y2="283.50" stroke="#666" stroke-width="0.4"/>
<line x1="489.30" y1="282.20" x2="489.30" y2="283.50" stroke="#666" stroke-width="0.4"/>
<line x1="492.20" y1="282.20" x2="492.20" y2="283.50" stroke="#666" stroke-width="0.4"/>
<line x1="495.10" y1="282.20" x2="495.10" y2="283.50" stroke="#666" stroke-width="0.4"/>
<line x1="498.00" y1="282.20" x2="498.00" y2="283.50" stroke="#666" stroke-width="0.4"/>
<line x1="500.90" y1="282.20" x2="500.90" y2="283.50" stroke="#666" stroke-width="0.4"/>
<line x1="262.00" y1="281.60" x2="262.00" y2="284.60" stroke="#333" stroke-width="0.6"/>
<line x1="301.00" y1="281.60" x2="301.00" y2="284.60" stroke="#333" stroke-width="0.6"/>
<line x1="332.80" y1="281.60" x2="332.80" y2="284.60" stroke="#333" stroke-width="0.6"/>
<line x1="359.00" y1="281.60" x2="359.00" y2="284.60" stroke="#333" stroke-width="0.6"/>
<line x1="368.30" y1="281.60" x2="368.30" y2="284.60" stroke="#333" stroke-width="0.6"/>
<line x1="405.50" y1="281.40" x2="405.50" y2="284.40" stroke="#333" stroke-width="0.6"/>
<line x1="441.00" y1="281.40" x2="441.00" y2="284.40" stroke="#333" stroke-width="0.6"/>
<line x1="470.30" y1="281.40" x2="470.30" y2="284.40" stroke="#333" stroke-width="0.6"/>
<line x1="494.00" y1="281.40" x2="494.00" y2="284.40" stroke="#333" stroke-width="0.6"/>
<line x1="503.40" y1="281.40" x2="503.40" y2="284.40" stroke="#333" stroke-width="0.6"/>
<line x1="278.00" y1="282.40" x2="278.00" y2="284.40" stroke="#000" stroke-width="0.6"/>
<line x1="278.80" y1="282.40" x2="278.80" y2="284.40" stroke="#000" stroke-width="0.6"/>
<line x1="279.60" y1="282.40" x2="279.60" y2="284.40" stroke="#000" stroke-width="0.6"/>
<line x1="280.40" y1="282.40" x2="280.40" y2="284.40" stroke="#000" stroke-width="0.6"/>
<line x1="281.10" y1="282.40" x2="281.10" y2="284.40" stroke="#000" stroke-width="0.6"/>
<line x1="419.00" y1="282.20" x2="419.00" y2="284.20" stroke="#000" stroke-width="0.6"/>
<line x1="419.80" y1="282.20" x2="419.80" y2="284.20" stroke="#000" stroke-width="0.6"/>
<line x1="420.60" y1="282.20" x2="420.60" y2="284.20" stroke="#000" stroke-width="0.6"/>
<line x1="421.40" y1="282.20" x2="421.40" y2="284.20" stroke="#000" stroke-width="0.6"/>
<line x1="422.20" y1="282.20" x2="422.20" y2="284.20" stroke="#000" stroke-width="0.6"/>
<path d="M278 282.4 L281 282.2 L283.2 280.5 L285.3 271 L287.4 252 L288.9 238 L291 220 L293.8 203.2 L296 210.9 L297.6 225 L298.5 236 L299.7 243 L301.5 253 L303.5 265.2 L305.2 273 L306.6 278.4 L309 281.6 L316 282.2" stroke="#e27e8c" stroke-width="0.85" fill="none"/>
<path d="M280 282.4 L283 282 L285 280 L287 270 L288.5 260 L290.5 248 L292.1 238 L294.5 226 L296.6 217.4 L297.9 213.5 L300 210 L301.8 207 L303 211 L304.4 217.4 L305.6 222.5 L306.9 220.6 L308.9 228 L309.7 240 L311.5 254 L313.6 265.2 L315.5 273 L317.3 278 L319 280.5 L322 282 L330 282.3" stroke="#86dada" stroke-width="0.85" fill="none"/>
<path d="M422 282.2 L427.7 281 L431.6 273.4 L434 263 L436.4 254 L438 240 L439.3 225 L440.5 215 L442.4 208.6 L444.4 198.3 L445.6 194.2 L447.6 203.5 L449 213 L450.2 226 L452 240 L453.8 254 L455.3 265 L456.8 273.4 L458.3 278.5 L459.7 280.6 L464.5 281.2 L471.3 280.6 L478 281.4 L485 282" stroke="#dc7e8c" stroke-width="0.85" fill="none"/>
<path d="M421 282.2 L426.5 281 L429.7 273.4 L432 262 L433.5 254 L435 240 L436.4 225 L437.9 216 L439.5 209 L441.1 206 L441.8 202.2 L444 196.5 L445.2 195.5 L447.4 203.5 L448.8 213 L450 226 L451.8 240 L453.6 254 L455.1 265 L456.6 273.4 L458.2 278.5 L459.8 280.6 L464.5 280.8 L468 279.6 L471.3 279.2 L475 279.8 L478 281 L486 282" stroke="#88d4dc" stroke-width="0.85" fill="none"/>
<line x1="336.00" y1="189.40" x2="342.90" y2="189.40" stroke="#c02030" stroke-width="0.9"/>
<line x1="336.00" y1="193.30" x2="342.90" y2="193.30" stroke="#86c4e0" stroke-width="0.9"/>
<text x="346.2" y="190.9" font-size="4.6" text-anchor="start" fill="#000" textLength="15.0" lengthAdjust="spacingAndGlyphs">vehicle</text>
<text x="346.4" y="194.9" font-size="4.6" text-anchor="start" fill="#000" textLength="14.5" lengthAdjust="spacingAndGlyphs">4-OHT</text>
<line x1="494.30" y1="189.40" x2="503.00" y2="189.40" stroke="#c02030" stroke-width="0.9"/>
<line x1="494.30" y1="193.80" x2="503.00" y2="193.80" stroke="#86c4e0" stroke-width="0.9"/>
<text x="503.7" y="191.0" font-size="4.6" text-anchor="start" fill="#000" textLength="15.0" lengthAdjust="spacingAndGlyphs">vehicle</text>
<text x="503.9" y="195.5" font-size="4.6" text-anchor="start" fill="#000" textLength="14.5" lengthAdjust="spacingAndGlyphs">4-OHT</text>
</svg>
</body></html>
